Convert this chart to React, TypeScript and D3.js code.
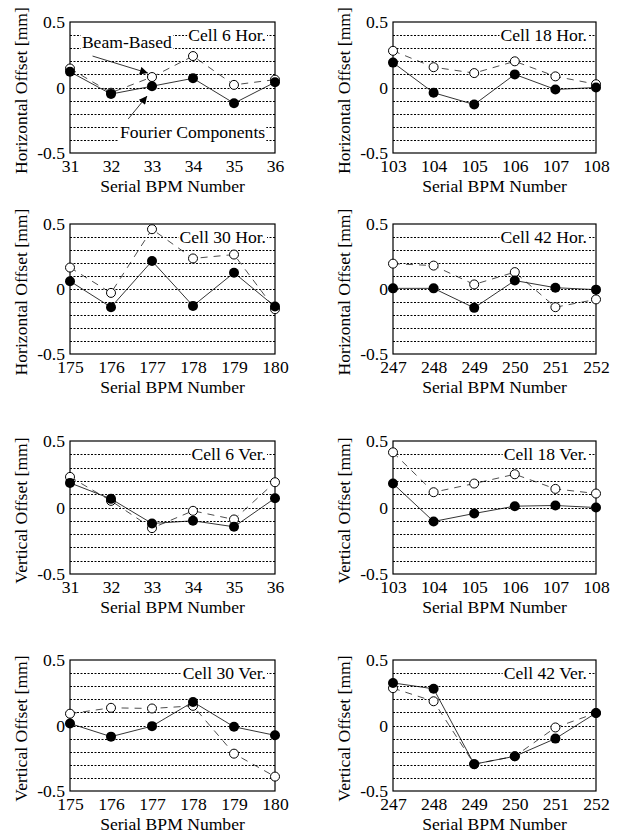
import * as d3 from "d3";
import { useEffect, useRef } from "react";

// BPM numbers per cell
const bpmCell6 = [31, 32, 33, 34, 35, 36];
const bpmCell18 = [103, 104, 105, 106, 107, 108];
const bpmCell30 = [175, 176, 177, 178, 179, 180];
const bpmCell42 = [247, 248, 249, 250, 251, 252];

// horizontal offsets [mm]
const hor6Fourier = [0.12, -0.05, 0.01, 0.07, -0.12, 0.04];
const hor6Beam = [0.145, -0.04, 0.08, 0.24, 0.02, 0.06];
const hor18Fourier = [0.19, -0.04, -0.13, 0.1, -0.015, 0.0];
const hor18Beam = [0.28, 0.155, 0.11, 0.2, 0.085, 0.025];
const hor30Fourier = [0.06, -0.14, 0.215, -0.13, 0.125, -0.135];
const hor30Beam = [0.165, -0.03, 0.46, 0.235, 0.265, -0.155];
const hor42Fourier = [0.005, 0.005, -0.145, 0.065, 0.01, -0.005];
const hor42Beam = [0.195, 0.18, 0.035, 0.13, -0.14, -0.08];

// vertical offsets [mm]
const ver6Fourier = [0.185, 0.065, -0.12, -0.1, -0.145, 0.07];
const ver6Beam = [0.23, 0.05, -0.155, -0.025, -0.09, 0.19];
const ver18Fourier = [0.18, -0.105, -0.045, 0.01, 0.015, 0.0];
const ver18Beam = [0.415, 0.115, 0.18, 0.25, 0.14, 0.105];
const ver30Fourier = [0.015, -0.085, -0.005, 0.18, -0.01, -0.075];
const ver30Beam = [0.09, 0.135, 0.13, 0.15, -0.215, -0.39];
const ver42Fourier = [0.325, 0.28, -0.295, -0.235, -0.1, 0.095];
const ver42Beam = [0.285, 0.185, -0.295, -0.235, -0.015, 0.095];

const yTicks = [-0.5, 0, 0.5];

const panels = [
    { title: "Cell 6 Hor.", yLabel: "Horizontal Offset [mm]", bpm: bpmCell6, fourier: hor6Fourier, beam: hor6Beam },
    { title: "Cell 18 Hor.", yLabel: "Horizontal Offset [mm]", bpm: bpmCell18, fourier: hor18Fourier, beam: hor18Beam },
    { title: "Cell 30 Hor.", yLabel: "Horizontal Offset [mm]", bpm: bpmCell30, fourier: hor30Fourier, beam: hor30Beam },
    { title: "Cell 42 Hor.", yLabel: "Horizontal Offset [mm]", bpm: bpmCell42, fourier: hor42Fourier, beam: hor42Beam },
    { title: "Cell 6 Ver.", yLabel: "Vertical Offset [mm]", bpm: bpmCell6, fourier: ver6Fourier, beam: ver6Beam },
    { title: "Cell 18 Ver.", yLabel: "Vertical Offset [mm]", bpm: bpmCell18, fourier: ver18Fourier, beam: ver18Beam },
    { title: "Cell 30 Ver.", yLabel: "Vertical Offset [mm]", bpm: bpmCell30, fourier: ver30Fourier, beam: ver30Beam },
    { title: "Cell 42 Ver.", yLabel: "Vertical Offset [mm]", bpm: bpmCell42, fourier: ver42Fourier, beam: ver42Beam },
];

// layout
const width = 619;
const height = 834;
const colX = [[70, 275], [393, 596]];
const rowY = [[22, 153], [224, 354], [441, 574], [660, 791]];
const font = "Liberation Serif, Times New Roman, DejaVu Serif, serif";
const fontSize = 17.6;

const App = () => {
    const chartRef = useRef<SVGSVGElement>(null);

    useEffect(() => {
        const svg = d3.select(chartRef.current);
        svg.selectAll("*").remove();

        svg.append("defs").append("marker")
            .attr("id", "arrowHead")
            .attr("viewBox", "0 0 10 10")
            .attr("refX", 10)
            .attr("refY", 5)
            .attr("markerUnits", "userSpaceOnUse")
            .attr("markerWidth", 11)
            .attr("markerHeight", 8)
            .attr("orient", "auto")
            .append("path")
            .attr("d", "M0,0 L10,5 L0,10 Z")
            .attr("fill", "#000");

        // text with a white box behind it
        const boxedText = (g: any, x: number, y: number, txt: string, anchor: string, pad: number) => {
            const box = g.append("rect").attr("fill", "#fff");
            const t = g.append("text")
                .attr("x", x)
                .attr("y", y)
                .attr("dy", "0.35em")
                .attr("text-anchor", anchor)
                .attr("font-family", font)
                .attr("font-size", fontSize)
                .text(txt);
            const bb = (t.node() as SVGTextElement).getBBox();
            box.attr("x", bb.x - 1)
                .attr("y", bb.y + 2 - pad)
                .attr("width", bb.width + 2)
                .attr("height", bb.height - 3 + 2 * pad);
        };

        panels.forEach((p, i) => {
            const [x0, x1] = colX[i % 2];
            const [y0, y1] = rowY[Math.floor(i / 2)];

            const scaleX = d3.scaleLinear()
                .domain(d3.extent(p.bpm) as [number, number])
                .range([x0, x1]);
            const scaleY = d3.scaleLinear()
                .domain([-0.5, 0.5])
                .range([y1, y0]);

            const g = svg.append("g");

            // dotted grid every 0.1 mm
            g.selectAll(".grid")
                .data(d3.range(-4, 5).map(k => k / 10))
                .enter()
                .append("line")
                .attr("x1", x0)
                .attr("x2", x1)
                .attr("y1", d => Math.round(scaleY(d)) + 0.5)
                .attr("y2", d => Math.round(scaleY(d)) + 0.5)
                .attr("stroke", "#000")
                .attr("stroke-width", 1)
                .attr("stroke-dasharray", "2,1.5");

            // cell label
            boxedText(g, x1 - 9, scaleY(0.4), p.title, "end", 0);

            // annotations on the first panel
            if (i === 0) {
                boxedText(g, scaleX(31.29), scaleY(0.345), "Beam-Based", "start", 1);
                boxedText(g, scaleX(32.22), scaleY(-0.34), "Fourier Components", "start", 2);
                g.append("line")
                    .attr("x1", scaleX(31.55)).attr("y1", scaleY(0.24))
                    .attr("x2", scaleX(32.9)).attr("y2", scaleY(0.11))
                    .attr("stroke", "#000").attr("stroke-width", 0.8)
                    .attr("marker-end", "url(#arrowHead)");
                g.append("line")
                    .attr("x1", scaleX(32.42)).attr("y1", scaleY(-0.24))
                    .attr("x2", scaleX(32.88)).attr("y2", scaleY(-0.065))
                    .attr("stroke", "#000").attr("stroke-width", 0.8)
                    .attr("marker-end", "url(#arrowHead)");
            }

            // frame
            g.append("rect")
                .attr("x", x0)
                .attr("y", y0)
                .attr("width", x1 - x0)
                .attr("height", y1 - y0)
                .attr("fill", "none")
                .attr("stroke", "#000")
                .attr("stroke-width", 1.2);

            // axes
            const xAxis = g.append("g")
                .attr("transform", `translate(0, ${y1})`)
                .call(d3.axisBottom(scaleX).tickValues(p.bpm).tickFormat(d => String(d)).tickSize(0).tickPadding(7));
            const yAxis = g.append("g")
                .attr("transform", `translate(${x0}, 0)`)
                .call(d3.axisLeft(scaleY).tickValues(yTicks).tickFormat(d => String(d)).tickSize(0).tickPadding(5));
            [xAxis, yAxis].forEach(a => {
                a.select(".domain").remove();
                a.attr("font-family", font).attr("font-size", fontSize);
            });

            // axis titles
            g.append("text")
                .attr("x", (x0 + x1) / 2)
                .attr("y", y1 + 39)
                .attr("text-anchor", "middle")
                .attr("font-family", font)
                .attr("font-size", fontSize)
                .text("Serial BPM Number");
            g.append("text")
                .attr("transform", `translate(${x0 - 49}, ${(y0 + y1) / 2 + 3}) rotate(-90)`)
                .attr("dy", "0.35em")
                .attr("text-anchor", "middle")
                .attr("font-family", font)
                .attr("font-size", fontSize)
                .text(p.yLabel);

            // beam-based: dashed line, open circles
            const lineGen = d3.line<number>()
                .x((_, k) => scaleX(p.bpm[k]))
                .y(d => scaleY(d));
            g.append("path")
                .attr("d", lineGen(p.beam))
                .attr("fill", "none")
                .attr("stroke", "#000")
                .attr("stroke-width", 0.7)
                .attr("stroke-dasharray", "7,6");
            g.selectAll(".open")
                .data(p.beam)
                .enter()
                .append("circle")
                .attr("cx", (_, k) => scaleX(p.bpm[k]))
                .attr("cy", d => scaleY(d))
                .attr("r", 4.5)
                .attr("fill", "#fff")
                .attr("stroke", "#000")
                .attr("stroke-width", 1);

            // fourier components: solid line, filled circles
            g.append("path")
                .attr("d", lineGen(p.fourier))
                .attr("fill", "none")
                .attr("stroke", "#000")
                .attr("stroke-width", 0.8);
            g.selectAll(".filled")
                .data(p.fourier)
                .enter()
                .append("circle")
                .attr("cx", (_, k) => scaleX(p.bpm[k]))
                .attr("cy", d => scaleY(d))
                .attr("r", 5)
                .attr("fill", "#000");
        });
    }, []);

    return (
        <svg ref={chartRef} width={width} height={height}
            style={{ position: "absolute", left: 0, top: 0, background: "#fff" }} />
    );
};

export default App;
